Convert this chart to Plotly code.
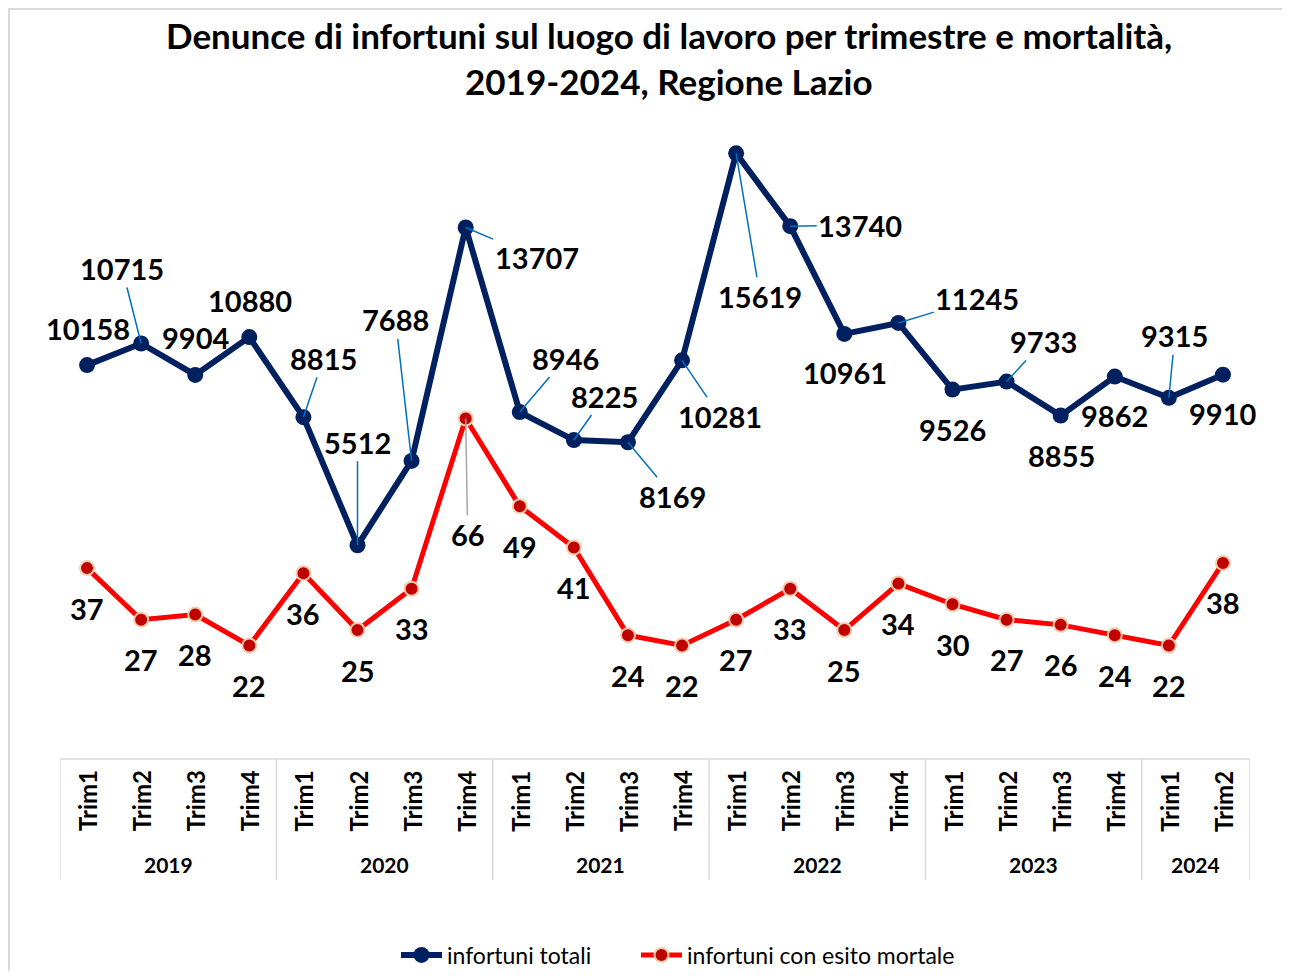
import plotly.graph_objects as go

# ---------------- data ----------------
years = ["2019", "2019", "2019", "2019", "2020", "2020", "2020", "2020",
         "2021", "2021", "2021", "2021", "2022", "2022", "2022", "2022",
         "2023", "2023", "2023", "2023", "2024", "2024"]
quarters = ["Trim1", "Trim2", "Trim3", "Trim4"] * 5 + ["Trim1", "Trim2"]
infortuni_totali = [10158, 10715, 9904, 10880, 8815, 5512, 7688, 13707,
                    8946, 8225, 8169, 10281, 15619, 13740, 10961, 11245,
                    9526, 9733, 8855, 9862, 9315, 9910]
infortuni_mortali = [37, 27, 28, 22, 36, 25, 33, 66, 49, 41, 24, 22,
                     27, 33, 25, 34, 30, 27, 26, 24, 22, 38]
series_names = ["infortuni totali", "infortuni con esito mortale"]
title_lines = ["Denunce di infortuni sul luogo di lavoro per trimestre e mortalità,",
               "2019-2024, Regione Lazio"]

# ---------------- label placement (pixels) ----------------
blue_off = [(1, -37, False), (-19, -75, True), (0, -37, False), (1, -37, False),
            (20, -59, True), (0, -103, True), (-16, -141, True), (71, 30, True),
            (46, -54, True), (31, -44, True), (45, 54, True), (38, 56, True),
            (24, 143, True), (70, -1, True), (1, 39, False), (79, -24, True),
            (0, 40, False), (37, -40, True), (1, 40, False), (0, 39, False),
            (6, -62, True), (0, 39, False)]
red_off = [(0, 40, False)] * 22
red_off[7] = (2, 116, True)

# page offset of the figure (browser body margin) -> keep the page from overflowing
OFF = 8
W, H = 1290 - 2 * OFF, 979 - 2 * OFF
PLOT_L, PLOT_R, PLOT_T, PLOT_B = 60, 1250, 61, 759   # page pixels
ML, MR, MT, MB = PLOT_L - OFF, (W + OFF) - PLOT_R, PLOT_T - OFF, (H + OFF) - PLOT_B
PH = PLOT_B - PLOT_T
PW = PLOT_R - PLOT_L


def py(pix):
    """page pixel y -> paper y"""
    return (PLOT_B - pix) / PH


def px(pix):
    return (pix - PLOT_L) / PW


def cy(pix):
    """page pixel y -> container y"""
    return 1 - (pix - OFF) / H


FONT = "Lato"
x = list(range(len(quarters)))

fig = go.Figure()
fig.add_trace(go.Scatter(
    x=x, y=infortuni_totali, name=series_names[0], mode="lines+markers",
    line=dict(color="#002060", width=6),
    marker=dict(color="#002060", size=16, line=dict(width=0)),
    yaxis="y", hoverinfo="skip", legend="legend"))
fig.add_trace(go.Scatter(
    x=x, y=infortuni_mortali, name=series_names[1], mode="lines+markers",
    line=dict(color="#FF0000", width=5),
    marker=dict(color="#C00000", size=14, line=dict(color="#F8CBAD", width=2)),
    yaxis="y2", hoverinfo="skip", legend="legend2"))

ann = []
lab_font = dict(family=FONT, size=29, color="#000000", weight="bold")
for i, v in enumerate(infortuni_totali):
    dx, dy, lead = blue_off[i]
    if lead:
        ann.append(dict(x=i, y=v, xref="x", yref="y", text=str(v), showarrow=True,
                        ax=dx, ay=dy, arrowhead=0, arrowwidth=1.5, arrowcolor="#0070C0",
                        standoff=0, font=lab_font))
    else:
        ann.append(dict(x=i, y=v, xref="x", yref="y", text=str(v), showarrow=False,
                        xshift=dx, yshift=-dy, font=lab_font))
for i, v in enumerate(infortuni_mortali):
    dx, dy, lead = red_off[i]
    if lead:
        ann.append(dict(x=i, y=v, xref="x", yref="y2", text=str(v), showarrow=True,
                        ax=dx, ay=dy, arrowhead=0, arrowwidth=1.5, arrowcolor="#A6A6A6",
                        standoff=0, font=lab_font))
    else:
        ann.append(dict(x=i, y=v, xref="x", yref="y2", text=str(v), showarrow=False,
                        xshift=dx, yshift=-dy, font=lab_font))

# category axis labels
for i, q in enumerate(quarters):
    ann.append(dict(x=i, y=py(801), xref="x", yref="paper", text=q, showarrow=False,
                    textangle=-90, xanchor="center", yanchor="middle",
                    font=dict(family=FONT, size=24, color="#000000", weight="bold")))
groups = []
for i, yv in enumerate(years):
    if not groups or groups[-1][0] != yv:
        groups.append([yv, i, i])
    else:
        groups[-1][2] = i
shapes = []
for yv, a, b in groups:
    ann.append(dict(x=(a + b) / 2, y=py(864), xref="x", yref="paper", text=yv, showarrow=False,
                    xanchor="center", yanchor="middle",
                    font=dict(family=FONT, size=21, color="#000000", weight="bold")))
    shapes.append(dict(type="line", xref="x", yref="paper", x0=a - 0.5, x1=a - 0.5,
                       y0=0, y1=py(880), line=dict(color="#D9D9D9", width=1.5)))
shapes.append(dict(type="line", xref="x", yref="paper", x0=len(x) - 0.5, x1=len(x) - 0.5,
                   y0=0, y1=py(880), line=dict(color="#D9D9D9", width=1.5)))
shapes.append(dict(type="line", xref="x", yref="paper", x0=-0.5, x1=len(x) - 0.5,
                   y0=0, y1=0, line=dict(color="#D9D9D9", width=1.5)))
# chart frame (top and left edges; the rest lies beyond the page)
FR = dict(color="#D9D9D9", width=2)
shapes.append(dict(type="line", xref="paper", yref="paper", x0=px(OFF), x1=px(OFF + W),
                   y0=py(OFF + 1), y1=py(OFF + 1), line=FR, layer="below"))
shapes.append(dict(type="line", xref="paper", yref="paper", x0=px(OFF + 1), x1=px(OFF + 1),
                   y0=py(OFF), y1=py(OFF + H), line=FR, layer="below"))

# title
for t, ypix in zip(title_lines, [35.5, 80.5]):
    ann.append(dict(x=px(669), y=py(ypix), xref="paper", yref="paper", text=t, showarrow=False,
                    xanchor="center", yanchor="middle",
                    font=dict(family=FONT, size=35, color="#000000", weight="bold")))

leg_common = dict(orientation="h", xanchor="left", yref="container", y=cy(955),
                  yanchor="middle", itemwidth=41,
                  font=dict(family=FONT, size=23, color="#000000"),
                  bgcolor="rgba(0,0,0,0)")
fig.update_layout(
    width=W, height=H,
    margin=dict(l=ML, r=MR, t=MT, b=MB),
    paper_bgcolor="white", plot_bgcolor="white",
    xaxis=dict(range=[-0.5, len(x) - 0.5], showgrid=False, zeroline=False,
               showticklabels=False, ticks="", showline=False),
    yaxis=dict(range=[0, 18000], visible=False),
    yaxis2=dict(range=[0, PH / 5.159], overlaying="y", side="right", visible=False),
    showlegend=True,
    legend=dict(x=px(396), **leg_common),
    legend2=dict(x=px(636), **leg_common),
    annotations=ann, shapes=shapes,
)

fig.write_html("out.html")
